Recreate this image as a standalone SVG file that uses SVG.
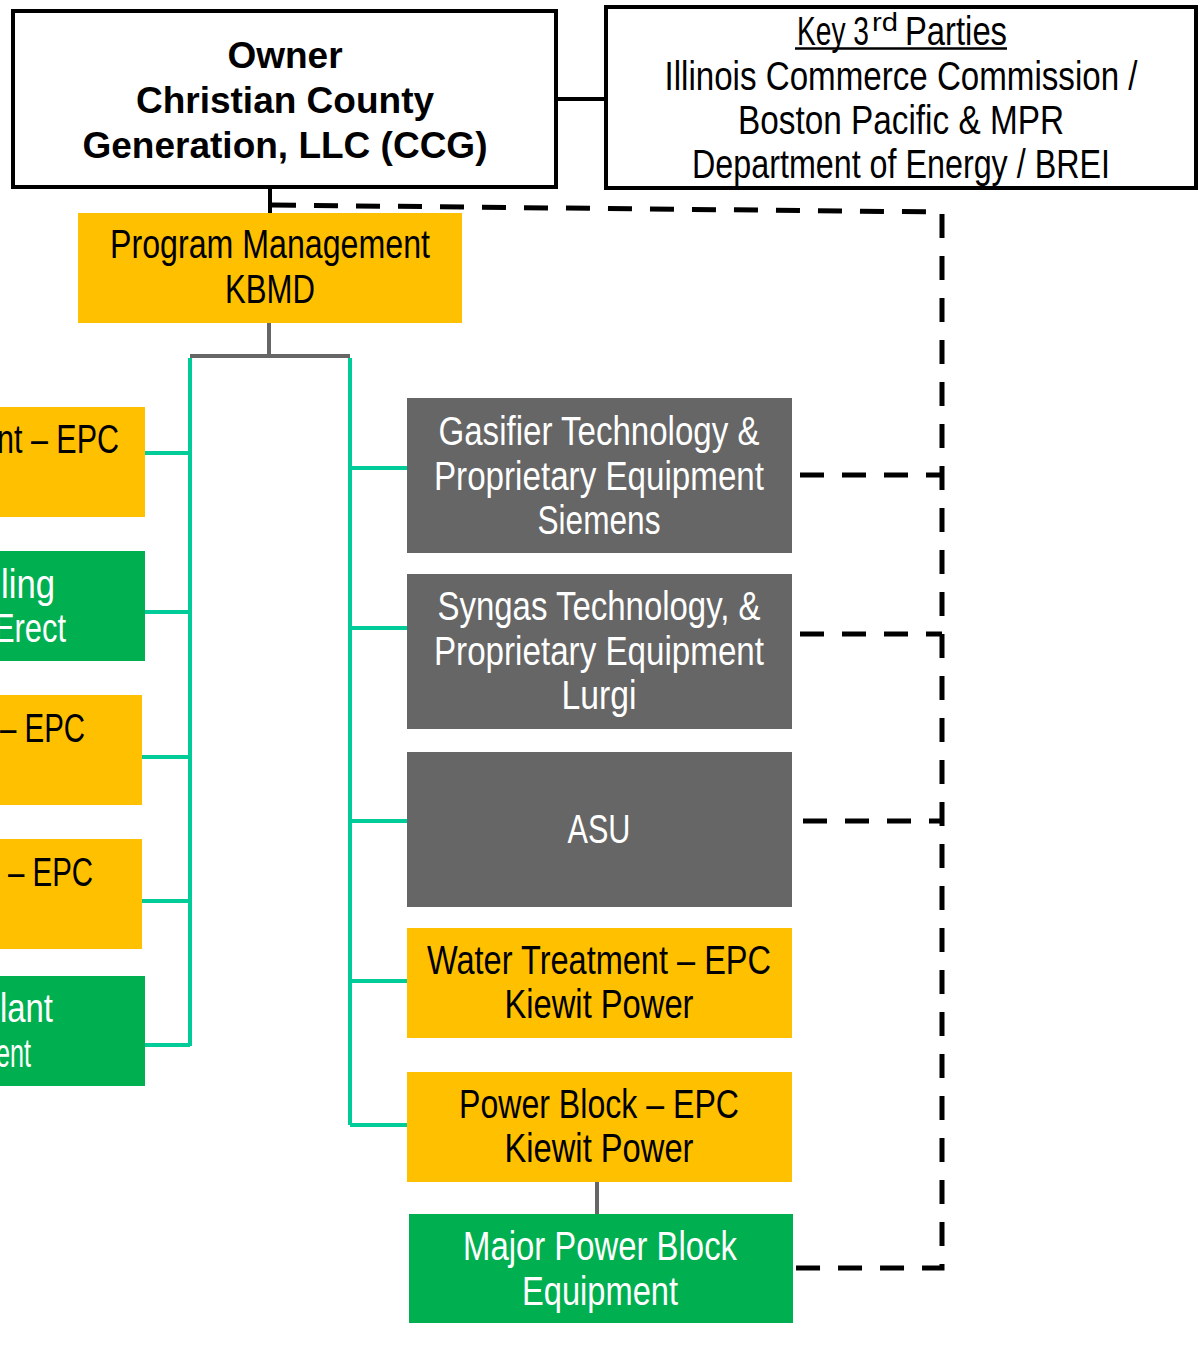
<svg xmlns="http://www.w3.org/2000/svg" width="1201" height="1348" viewBox="0 0 1201 1348">
<style>
.t{font-family:"Liberation Sans Narrow","Liberation Sans",Arial,sans-serif;font-size:40px;text-anchor:middle}
.tl{font-family:"Liberation Sans Narrow","Liberation Sans",Arial,sans-serif;font-size:40px}
.b{fill:#000}
.w{fill:#fff}
.own{font-family:"Liberation Sans",Arial,sans-serif;font-weight:bold;font-size:37px;text-anchor:middle;fill:#000}
.yel{fill:#FFC000}
.grn{fill:#00B050}
.gry{fill:#666666}
.teal{stroke:#00CC99;stroke-width:4;fill:none}
.gl{stroke:#666666;stroke-width:4;fill:none}
.dash{stroke:#000;stroke-width:5;stroke-dasharray:24 18;fill:none}
</style>
<rect width="1201" height="1348" fill="#fff"/>
<g id="connectors">
<line x1="557" y1="99" x2="605" y2="99" stroke="#000" stroke-width="4"/>
<line x1="270" y1="188" x2="270" y2="213" stroke="#000" stroke-width="4"/>
<path class="dash" d="M272,205 L942,212 L942,1268 L793,1268"/>
<line class="dash" x1="800" y1="475" x2="942" y2="475"/>
<line class="dash" x1="800" y1="634" x2="942" y2="634"/>
<line class="dash" x1="803" y1="821" x2="942" y2="821"/>
<polyline class="gl" points="269,323 269,356"/>
<line class="gl" x1="190" y1="356" x2="350" y2="356"/>
<path class="teal" d="M190,358 V1046 M350,358 V1125"/>
<path class="teal" d="M145,453 H190 M145,612 H190 M142,757 H190 M142,901 H190 M145,1045 H190"/>
<path class="teal" d="M350,468 H407 M350,628 H407 M350,821 H407 M350,981 H407 M350,1125 H407"/>
<line class="gl" x1="597" y1="1182" x2="597" y2="1214"/>
</g>
<g id="owner">
<rect x="13" y="11" width="543" height="176" fill="#fff" stroke="#000" stroke-width="4"/>
<text class="own" x="285" y="68">Owner</text>
<text class="own" x="285" y="113">Christian County</text>
<text class="own" x="285" y="158">Generation, LLC (CCG)</text>
</g>
<g id="key-3rd-parties">
<rect x="606" y="7" width="590" height="181" fill="#fff" stroke="#000" stroke-width="4"/>
<text class="tl b" y="45"><tspan x="797" textLength="72" lengthAdjust="spacingAndGlyphs">Key 3</tspan><tspan x="872" y="31" font-size="26" textLength="26" lengthAdjust="spacingAndGlyphs">rd</tspan><tspan x="905" y="45" textLength="102" lengthAdjust="spacingAndGlyphs">Parties</tspan></text>
<line x1="795" y1="48.5" x2="1007" y2="48.5" stroke="#000" stroke-width="2.5"/>
<text class="t b" x="901" y="90" textLength="473" lengthAdjust="spacingAndGlyphs">Illinois Commerce Commission /</text>
<text class="t b" x="901" y="134" textLength="326" lengthAdjust="spacingAndGlyphs">Boston  Pacific &amp; MPR</text>
<text class="t b" x="901" y="178" textLength="418" lengthAdjust="spacingAndGlyphs">Department of Energy / BREI</text>
</g>
<g id="program-management">
<rect class="yel" x="78" y="213" width="384" height="110"/>
<text class="t b" x="270" y="258" textLength="320" lengthAdjust="spacingAndGlyphs">Program Management</text>
<text class="t b" x="270" y="303" textLength="90" lengthAdjust="spacingAndGlyphs">KBMD</text>
</g>
<g id="left-1">
<rect class="yel" x="0" y="407" width="145" height="110"/>
<text class="tl b" x="-3" y="453" textLength="122" lengthAdjust="spacingAndGlyphs">nt – EPC</text>
</g>
<g id="left-2">
<rect class="grn" x="0" y="551" width="145" height="110"/>
<text class="tl w" x="1" y="598" textLength="54" lengthAdjust="spacingAndGlyphs">ling</text>
<text class="tl w" x="-6" y="642" textLength="72" lengthAdjust="spacingAndGlyphs">Erect</text>
</g>
<g id="left-3">
<rect class="yel" x="0" y="695" width="142" height="110"/>
<text class="tl b" x="0" y="742" textLength="85" lengthAdjust="spacingAndGlyphs">– EPC</text>
</g>
<g id="left-4">
<rect class="yel" x="0" y="839" width="142" height="110"/>
<text class="tl b" x="8" y="886" textLength="85" lengthAdjust="spacingAndGlyphs">– EPC</text>
</g>
<g id="left-5">
<rect class="grn" x="0" y="976" width="145" height="110"/>
<text class="tl w" x="0" y="1022" textLength="53" lengthAdjust="spacingAndGlyphs">lant</text>
<text class="tl w" x="-4" y="1067" textLength="35" lengthAdjust="spacingAndGlyphs">ent</text>
</g>
<g id="gasifier">
<rect class="gry" x="407" y="398" width="385" height="155"/>
<text class="t w" x="599" y="445" textLength="321" lengthAdjust="spacingAndGlyphs">Gasifier Technology &amp;</text>
<text class="t w" x="599" y="490" textLength="330" lengthAdjust="spacingAndGlyphs">Proprietary Equipment</text>
<text class="t w" x="599" y="534" textLength="123" lengthAdjust="spacingAndGlyphs">Siemens</text>
</g>
<g id="syngas">
<rect class="gry" x="407" y="574" width="385" height="155"/>
<text class="t w" x="599" y="620" textLength="323" lengthAdjust="spacingAndGlyphs">Syngas Technology, &amp;</text>
<text class="t w" x="599" y="665" textLength="330" lengthAdjust="spacingAndGlyphs">Proprietary Equipment</text>
<text class="t w" x="599" y="709" textLength="75" lengthAdjust="spacingAndGlyphs">Lurgi</text>
</g>
<g id="asu">
<rect class="gry" x="407" y="752" width="385" height="155"/>
<text class="t w" x="599" y="843" textLength="63" lengthAdjust="spacingAndGlyphs">ASU</text>
</g>
<g id="water-treatment">
<rect class="yel" x="407" y="928" width="385" height="110"/>
<text class="t b" x="599" y="974" textLength="344" lengthAdjust="spacingAndGlyphs">Water  Treatment – EPC</text>
<text class="t b" x="599" y="1018" textLength="189" lengthAdjust="spacingAndGlyphs">Kiewit Power</text>
</g>
<g id="power-block">
<rect class="yel" x="407" y="1072" width="385" height="110"/>
<text class="t b" x="599" y="1118" textLength="280" lengthAdjust="spacingAndGlyphs">Power Block – EPC</text>
<text class="t b" x="599" y="1162" textLength="189" lengthAdjust="spacingAndGlyphs">Kiewit Power</text>
</g>
<g id="major-power-block-equipment">
<rect class="grn" x="409" y="1214" width="384" height="109"/>
<text class="t w" x="600" y="1260" textLength="274" lengthAdjust="spacingAndGlyphs">Major Power Block</text>
<text class="t w" x="600" y="1305" textLength="156" lengthAdjust="spacingAndGlyphs">Equipment</text>
</g>
</svg>
